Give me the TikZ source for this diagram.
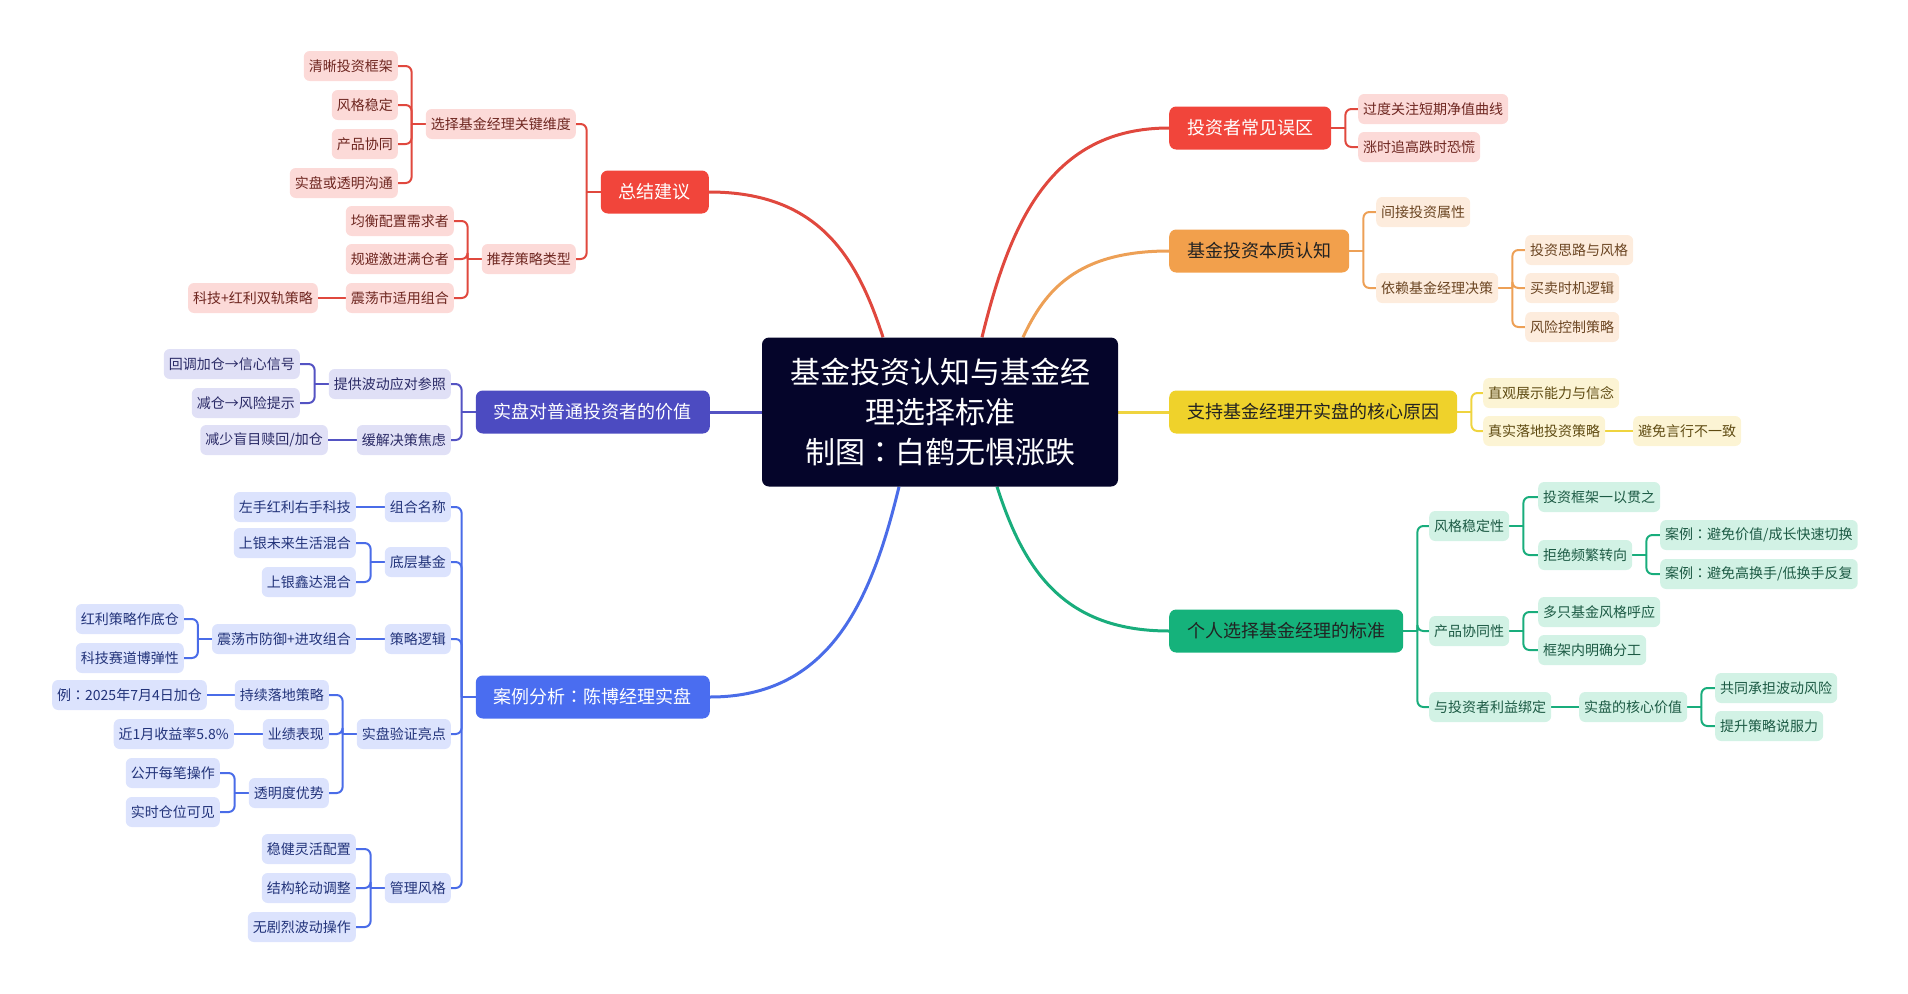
\documentclass[tikz,border=0pt]{standalone}
\usepackage{fontspec}
\setmainfont{Noto Sans CJK SC}
\newfontfamily\jpfont{Noto Sans CJK JP}
\newcommand\fwcolon{{\jpfont ：}}
\usetikzlibrary{calc,backgrounds}
\definecolor{rootbg}{HTML}{05052A}
\definecolor{redmain}{HTML}{F1453B}
\definecolor{redleaf}{HTML}{FCDAD8}
\definecolor{redtext}{HTML}{6E2620}
\definecolor{redline}{HTML}{E0483E}
\definecolor{ormain}{HTML}{F2A04C}
\definecolor{orleaf}{HTML}{FDECDD}
\definecolor{ortext}{HTML}{6B4522}
\definecolor{orline}{HTML}{EDA056}
\definecolor{yemain}{HTML}{EFD22B}
\definecolor{yeleaf}{HTML}{FCF4D4}
\definecolor{yetext}{HTML}{5F4B12}
\definecolor{yeline}{HTML}{EFD43F}
\definecolor{grmain}{HTML}{15B27B}
\definecolor{grleaf}{HTML}{D2F2E5}
\definecolor{grtext}{HTML}{1C5A44}
\definecolor{grline}{HTML}{19AD7C}
\definecolor{pumain}{HTML}{4C4BC1}
\definecolor{puleaf}{HTML}{E0E0F6}
\definecolor{putext}{HTML}{2A2A66}
\definecolor{puline}{HTML}{5453C3}
\definecolor{blmain}{HTML}{4A6DF0}
\definecolor{blleaf}{HTML}{DCE3FD}
\definecolor{bltext}{HTML}{22337A}
\definecolor{blline}{HTML}{4A6CE8}
\definecolor{darktext}{HTML}{222222}
\tikzset{
  topic/.style={rounded corners=7pt, minimum height=43pt, inner xsep=18pt, inner ysep=0pt, font=\fontsize{18pt}{20pt}\selectfont},
  leaf/.style={rounded corners=6pt, minimum height=30pt, inner xsep=5pt, inner ysep=0pt, font=\fontsize{14pt}{16pt}\selectfont},
  redleaf/.style={leaf, fill=redleaf, text=redtext},
  orleaf/.style={leaf, fill=orleaf, text=ortext},
  yeleaf/.style={leaf, fill=yeleaf, text=yetext},
  grleaf/.style={leaf, fill=grleaf, text=grtext},
  puleaf/.style={leaf, fill=puleaf, text=putext},
  blleaf/.style={leaf, fill=blleaf, text=bltext},
}
\begin{document}
\begin{tikzpicture}[x=1pt, y=-1pt]
\useasboundingbox (0,0) rectangle (1908,993);

\node (root) [fill=rootbg, text=white, rounded corners=7pt, minimum width=356pt, minimum height=149pt, align=center, font=\fontsize{30pt}{40pt}\selectfont] at (940,412) {基金投资认知与基金经\\理选择标准\\制图\fwcolon 白鹤无惧涨跌};

\node (mis) [topic, fill=redmain, text=white, anchor=west] at (1169,128) {投资者常见误区};
\node (mis1) [redleaf, anchor=west] at (1358,109) {过度关注短期净值曲线};
\node (mis2) [redleaf, anchor=west] at (1358,147) {涨时追高跌时恐慌};

\node (ess) [topic, fill=ormain, text=darktext, anchor=west] at (1169,251) {基金投资本质认知};
\node (ess1) [orleaf, anchor=west] at (1376,212) {间接投资属性};
\node (ess2) [orleaf, anchor=west] at (1376,288) {依赖基金经理决策};
\node (ess21) [orleaf, anchor=west] at (1525,250) {投资思路与风格};
\node (ess22) [orleaf, anchor=west] at (1525,288) {买卖时机逻辑};
\node (ess23) [orleaf, anchor=west] at (1525,327) {风险控制策略};

\node (why) [topic, fill=yemain, text=darktext, anchor=west, minimum width=287pt] at (1169,412) {支持基金经理开实盘的核心原因};
\node (why1) [yeleaf, anchor=west] at (1483,393) {直观展示能力与信念};
\node (why2) [yeleaf, anchor=west] at (1483,431) {真实落地投资策略};
\node (why21) [yeleaf, anchor=west] at (1633,431) {避免言行不一致};

\node (std) [topic, fill=grmain, text=darktext, anchor=west] at (1169,631) {个人选择基金经理的标准};
\node (std1) [grleaf, anchor=west] at (1429,526) {风格稳定性};
\node (std2) [grleaf, anchor=west] at (1429,631) {产品协同性};
\node (std3) [grleaf, anchor=west] at (1429,707) {与投资者利益绑定};
\node (std11) [grleaf, anchor=west] at (1538,497) {投资框架一以贯之};
\node (std12) [grleaf, anchor=west] at (1538,555) {拒绝频繁转向};
\node (std121) [grleaf, anchor=west] at (1660,535) {案例\fwcolon 避免价值/成长快速切换};
\node (std122) [grleaf, anchor=west] at (1660,574) {案例\fwcolon 避免高换手/低换手反复};
\node (std21) [grleaf, anchor=west] at (1538,612) {多只基金风格呼应};
\node (std22) [grleaf, anchor=west] at (1538,650) {框架内明确分工};
\node (std31) [grleaf, anchor=west] at (1579,707) {实盘的核心价值};
\node (std311) [grleaf, anchor=west] at (1715,688) {共同承担波动风险};
\node (std312) [grleaf, anchor=west] at (1715,726) {提升策略说服力};

\node (sum) [topic, fill=redmain, text=white, anchor=east] at (709,192) {总结建议};
\node (sum1) [redleaf, anchor=east] at (576,124) {选择基金经理关键维度};
\node (sum2) [redleaf, anchor=east] at (576,259) {推荐策略类型};
\node (sum11) [redleaf, anchor=east] at (398,66) {清晰投资框架};
\node (sum12) [redleaf, anchor=east] at (398,105) {风格稳定};
\node (sum13) [redleaf, anchor=east] at (398,144) {产品协同};
\node (sum14) [redleaf, anchor=east] at (398,183) {实盘或透明沟通};
\node (sum21) [redleaf, anchor=east] at (454,221) {均衡配置需求者};
\node (sum22) [redleaf, anchor=east] at (454,259) {规避激进满仓者};
\node (sum23) [redleaf, anchor=east] at (454,298) {震荡市适用组合};
\node (sum231) [redleaf, anchor=east] at (318,298) {科技+红利双轨策略};

\node (val) [topic, fill=pumain, text=white, anchor=east] at (710,412) {实盘对普通投资者的价值};
\node (val1) [puleaf, anchor=east] at (451,384) {提供波动应对参照};
\node (val2) [puleaf, anchor=east] at (451,440) {缓解决策焦虑};
\node (val11) [puleaf, anchor=east] at (300,364) {回调加仓→信心信号};
\node (val12) [puleaf, anchor=east] at (300,403) {减仓→风险提示};
\node (val21) [puleaf, anchor=east] at (328,440) {减少盲目赎回/加仓};

\node (cas) [topic, fill=blmain, text=white, anchor=east] at (710,697) {案例分析\fwcolon 陈博经理实盘};
\node (cas1) [blleaf, anchor=east] at (451,507) {组合名称};
\node (cas2) [blleaf, anchor=east] at (451,562) {底层基金};
\node (cas3) [blleaf, anchor=east] at (451,639) {策略逻辑};
\node (cas4) [blleaf, anchor=east] at (451,734) {实盘验证亮点};
\node (cas5) [blleaf, anchor=east] at (451,888) {管理风格};
\node (cas11) [blleaf, anchor=east] at (356,507) {左手红利右手科技};
\node (cas21) [blleaf, anchor=east] at (356,543) {上银未来生活混合};
\node (cas22) [blleaf, anchor=east] at (356,582) {上银鑫达混合};
\node (cas31) [blleaf, anchor=east] at (356,639) {震荡市防御+进攻组合};
\node (cas311) [blleaf, anchor=east] at (184,619) {红利策略作底仓};
\node (cas312) [blleaf, anchor=east] at (184,658) {科技赛道博弹性};
\node (cas41) [blleaf, anchor=east] at (329,695) {持续落地策略};
\node (cas42) [blleaf, anchor=east] at (329,734) {业绩表现};
\node (cas43) [blleaf, anchor=east] at (329,793) {透明度优势};
\node (cas411) [blleaf, anchor=east] at (207,695) {例\fwcolon 2025年7月4日加仓};
\node (cas421) [blleaf, anchor=east] at (234,734) {近1月收益率5.8\%};
\node (cas431) [blleaf, anchor=east] at (220,773) {公开每笔操作};
\node (cas432) [blleaf, anchor=east] at (220,812) {实时仓位可见};
\node (cas51) [blleaf, anchor=east] at (356,849) {稳健灵活配置};
\node (cas52) [blleaf, anchor=east] at (356,888) {结构轮动调整};
\node (cas53) [blleaf, anchor=east] at (356,927) {无剧烈波动操作};

\begin{scope}[on background layer]
\draw[redline, line width=3pt] ($(root.north)+(42,0)$) .. controls +(28,-115) and +(-118,0) .. (mis.west);
\draw[orline, line width=3pt] ($(root.north)+(83,0)$) .. controls +(22,-47) and +(-92,0) .. (ess.west);
\draw[yeline, line width=3pt] (root.east) -- (why.west);
\draw[grline, line width=3pt] ($(root.south)+(57,0)$) .. controls +(26,80) and +(-108,0) .. (std.west);
\draw[redline, line width=3pt] ($(root.north)+(-57,0)$) .. controls +(-26,-80) and +(110,0) .. (sum.east);
\draw[puline, line width=3pt] (root.west) -- (val.east);
\draw[blline, line width=3pt] ($(root.south)+(-41,0)$) .. controls +(-28,116) and +(119,0) .. (cas.east);

\foreach \p/\c/\col in {mis/mis1/redline, mis/mis2/redline, ess/ess1/orline, ess/ess2/orline,
    ess2/ess21/orline, ess2/ess22/orline, ess2/ess23/orline, why/why1/yeline, why/why2/yeline,
    std/std1/grline, std/std2/grline, std/std3/grline, std1/std11/grline,
    std1/std12/grline, std12/std121/grline, std12/std122/grline, std2/std21/grline,
    std2/std22/grline, std31/std311/grline, std31/std312/grline} {
  \draw[\col, line width=2pt] (\p.east) -- ++(14,0) coordinate (j);
  \draw[\col, line width=2pt, rounded corners=6pt] (j) |- (\c.west);
}
\foreach \p/\c/\col in {sum/sum1/redline, sum/sum2/redline, sum1/sum11/redline, sum1/sum12/redline,
    sum1/sum13/redline, sum1/sum14/redline, sum2/sum21/redline, sum2/sum22/redline,
    sum2/sum23/redline, val/val1/puline, val/val2/puline,
    val1/val11/puline, val1/val12/puline, cas/cas1/blline, cas/cas2/blline,
    cas/cas3/blline, cas/cas4/blline, cas/cas5/blline, cas2/cas21/blline,
    cas2/cas22/blline, cas31/cas311/blline, cas31/cas312/blline,
    cas4/cas41/blline, cas4/cas42/blline, cas4/cas43/blline,
    cas43/cas431/blline, cas43/cas432/blline, cas5/cas51/blline,
    cas5/cas52/blline, cas5/cas53/blline} {
  \draw[\col, line width=2pt] (\p.west) -- ++(-14,0) coordinate (j);
  \draw[\col, line width=2pt, rounded corners=6pt] (j) |- (\c.east);
}
\foreach \p/\c/\col in {why2/why21/yeline, std3/std31/grline} \draw[\col, line width=2pt] (\p.east) -- (\c.west);
\foreach \p/\c/\col in {sum23/sum231/redline, val2/val21/puline, cas1/cas11/blline, cas3/cas31/blline,
    cas41/cas411/blline, cas42/cas421/blline} \draw[\col, line width=2pt] (\p.west) -- (\c.east);
\end{scope}
\end{tikzpicture}
\end{document}
